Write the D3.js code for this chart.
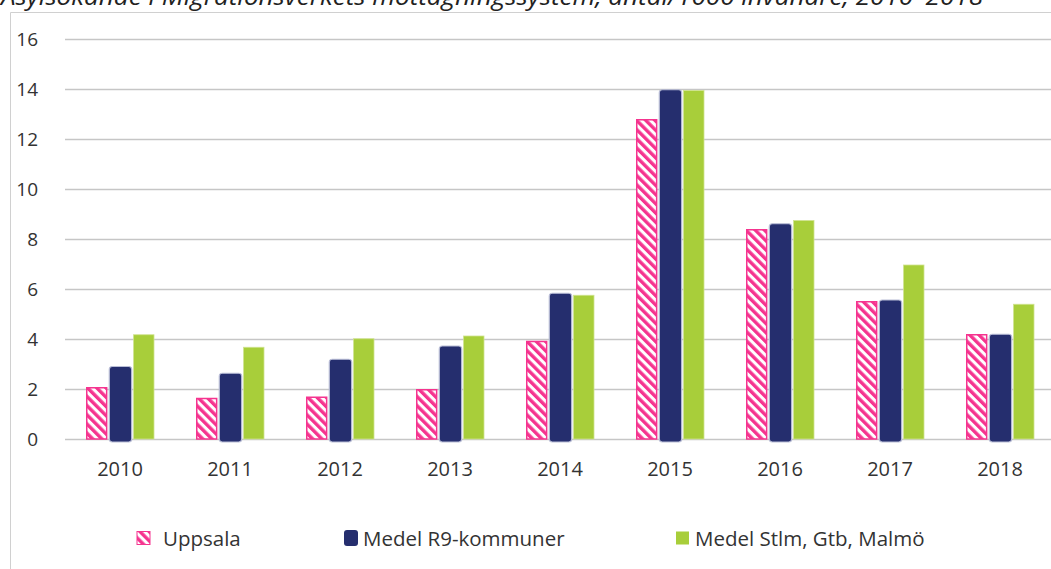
<!DOCTYPE html>
<html lang="sv">
<head>
<meta charset="utf-8">
<title>Asylsökande</title>
<script src="https://cdn.jsdelivr.net/npm/d3@7"></script>
<style>
  body { margin: 0; background: #fff; }
  svg { display: block; font-family: "Open Sans", sans-serif; }
</style>
</head>
<body>
<script>
// data
var years = ["2010", "2011", "2012", "2013", "2014", "2015", "2016", "2017", "2018"];
var seriesNames = ["Uppsala", "Medel R9-kommuner", "Medel Stlm, Gtb, Malmö"];
var uppsala = [2.08, 1.65, 1.70, 2.00, 3.93, 12.8, 8.40, 5.52, 4.20];
var r9 = [2.90, 2.63, 3.19, 3.72, 5.83, 13.97, 8.61, 5.56, 4.19];
var storstad = [4.17, 3.67, 4.01, 4.12, 5.75, 13.94, 8.74, 6.96, 5.39];
var yTicks = [0, 2, 4, 6, 8, 10, 12, 14, 16];
var title = "Asylsökande i Migrationsverkets mottagningssystem, antal/1000 invånare, 2010–2018";

var w = 1051, h = 569;
var pink = "#f5348f", navy = "#252e6e", green = "#a8ce3a";

var svg = d3.select("body").append("svg")
    .attr("width", w)
    .attr("height", h);

// hatch pattern for Uppsala
var defs = svg.append("defs");
var pat = defs.append("pattern")
    .attr("id", "hatch")
    .attr("patternUnits", "userSpaceOnUse")
    .attr("width", 6.5)
    .attr("height", 6.5)
    .attr("patternTransform", "rotate(-45)");
pat.append("rect").attr("width", 6.5).attr("height", 6.5).attr("fill", "#fff");
pat.append("rect").attr("width", 3.4).attr("height", 6.5).attr("fill", pink);

// title (cut off at top like the original)
svg.append("text")
    .attr("x", 1)
    .attr("y", 5)
    .attr("textLength", 982)
    .attr("lengthAdjust", "spacingAndGlyphs")
    .style("font-style", "italic")
    .style("font-size", "23px")
    .attr("fill", "#222")
    .text(title);

// chart frame
svg.append("path")
    .attr("d", "M10.5," + h + "V12.5H" + w)
    .attr("fill", "none")
    .attr("stroke", "#d0d0d0");

var x0 = d3.scaleBand().domain(years).range([65, 1055]);
var x1 = d3.scaleBand().domain(d3.range(3)).range([21, 90]).paddingInner(0.1);
var y = d3.scaleLinear().domain([0, 16]).range([439, 39]);

// gridlines
svg.append("g").selectAll("line")
    .data(yTicks)
    .enter().append("line")
    .attr("x1", 65).attr("x2", w)
    .attr("y1", function(d) { return Math.round(y(d)) + 0.5; })
    .attr("y2", function(d) { return Math.round(y(d)) + 0.5; })
    .attr("stroke", "#c6c6c6")
    .attr("stroke-width", 1.3);

// y axis labels
var yAxis = d3.axisLeft(y).tickValues(yTicks).tickSize(0).tickPadding(0);
var ya = svg.append("g").attr("transform", "translate(38,0)").call(yAxis);
ya.select(".domain").remove();
ya.selectAll("text")
    .style("font-size", "19px")
    .style("font-family", "'Open Sans', sans-serif")
    .attr("fill", "#333");

// x axis labels
var xAxis = d3.axisBottom(x0).tickSize(0).tickPadding(0);
var xa = svg.append("g").attr("transform", "translate(0,462)").call(xAxis);
xa.select(".domain").remove();
xa.selectAll("text")
    .style("font-size", "20px")
    .style("font-family", "'Open Sans', sans-serif")
    .attr("fill", "#333");

var rows = years.map(function(yr, i) {
    return { year: yr, vals: [uppsala[i], r9[i], storstad[i]] };
});

var groups = svg.append("g").selectAll("g")
    .data(rows)
    .enter().append("g")
    .attr("transform", function(d) { return "translate(" + x0(d.year) + ",0)"; });

// Uppsala hatched bars
groups.append("rect")
    .attr("x", x1(0) + 0.75)
    .attr("width", x1.bandwidth() - 1.5)
    .attr("y", function(d) { return y(d.vals[0]) + 0.75; })
    .attr("height", function(d) { return y(0) - y(d.vals[0]) - 0.75; })
    .attr("fill", "url(#hatch)")
    .attr("stroke", pink)
    .attr("stroke-width", 1.5);

// R9 bars, rounded with a light border, going a bit below the baseline
groups.append("rect")
    .attr("x", x1(1) - 0.5)
    .attr("width", x1.bandwidth() + 1)
    .attr("y", function(d) { return y(d.vals[1]); })
    .attr("height", function(d) { return y(0) - y(d.vals[1]) + 3; })
    .attr("rx", 3)
    .attr("fill", navy)
    .attr("stroke", "#b9bdd6")
    .attr("stroke-width", 1.2);

// Stlm/Gtb/Malmö bars
groups.append("rect")
    .attr("x", x1(2))
    .attr("width", x1.bandwidth() - 1)
    .attr("y", function(d) { return y(d.vals[2]); })
    .attr("height", function(d) { return y(0) - y(d.vals[2]); })
    .attr("fill", green)
    .attr("stroke", "#cfe38f")
    .attr("stroke-width", 0.8);

// legend
var legendX = [137, 344, 676];
var legend = svg.append("g").selectAll("g")
    .data(seriesNames)
    .enter().append("g")
    .attr("transform", function(d, i) { return "translate(" + legendX[i] + ",531)"; });

legend.append("rect")
    .attr("width", function(d, i) { return i == 1 ? 14 : 13; })
    .attr("height", function(d, i) { return i == 1 ? 16 : 13; })
    .attr("y", function(d, i) { return i == 1 ? -1 : 0.5; })
    .attr("rx", function(d, i) { return i == 1 ? 3 : 0; })
    .attr("fill", function(d, i) { return i == 0 ? "url(#hatch)" : (i == 1 ? navy : green); })
    .attr("stroke", function(d, i) { return i == 0 ? pink : "none"; })
    .attr("stroke-width", 1);

legend.append("text")
    .attr("x", function(d, i) { return i == 0 ? 26 : 19; })
    .attr("y", 15)
    .style("font-size", "20.5px")
    .attr("fill", "#333")
    .text(function(d) { return d; });
</script>
</body>
</html>
